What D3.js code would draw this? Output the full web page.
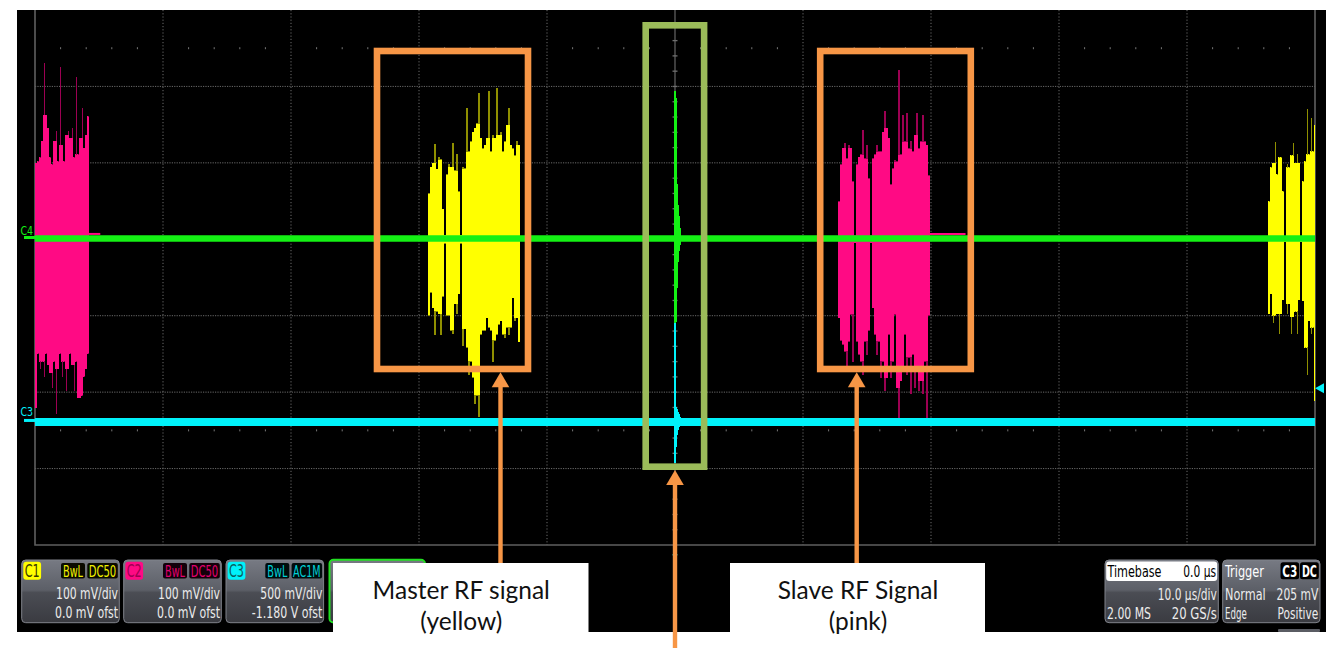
<!DOCTYPE html>
<html><head><meta charset="utf-8">
<script src="https://cdn.jsdelivr.net/npm/d3@7"></script>
<style>
html,body{margin:0;padding:0;background:#fff;overflow:hidden;}
svg{display:block;}
</style></head><body>
<svg id="c" width="1326" height="656"></svg>
<script>
// ================= DATA =================
// Time axis: 10 µs/div, 10 divisions, trigger at 0
const timeDomain = [-50, 50];           // µs
const timeTicks = [-40, -30, -20, -10, 10, 20, 30, 40];
const divDomain = [-4, 4];              // vertical divisions (top part cropped)
const divLines = [-3, -2, -1, 0, 1, 2];

// channel settings (from the info panels)
const c1Scale = 100, c2Scale = 100, c3Scale = 500, c4Scale = 100; // mV/div
const c3Offset = -1180;                 // mV
const c3TriggerLevel = 205;             // mV

// envelope sample period of the RF bursts (µs)
const sampleStep = 0.15625;

// C2 (pink) slave burst at the left edge
const pink1Start = -50;
const pink1Hi = [100,102,107,129,231,163,146,107,98,129,142,102,225,124,102,137,142,133,146,107,212,111,133,172,120,137,161];
const pink1Lo = [-221,-150,-170,-160,-180,-150,-165,-175,-195,-160,-229,-170,-150,-180,-160,-199,-170,-150,-165,-199,-160,-208,-208,-205,-180,-170,-150];

// C1 (yellow) master burst
const yellow1Start = -19.3;
const yellow1Hi = [60,95,100,125,92,108,105,40, 6, 85,98,95,126,90,111,63, 6,
  95,93,172,115,128,141,146,152,191,133,119,124,133,194,115,137,133,198,137,141,115,128,150,172,124,119,110,128,124];
const yellow1Lo = [-100,-70,-90,-125,-95,-98,-125,-75, -6, -100,-100,-120,-124,-85,-98,-72, -6,
  -140,-118,-142,-177,-160,-181,-216,-205,-232,-125,-120,-120,-103,-116,-120,-160,-133,-125,-112,-107,-125,-129,-116,-125,-116,-77,-107,-103,-135];

// C2 (pink) slave burst
const pink2Start = 12.73;
const pink2Hi = [50,98,120,126,106,124,120,76, 5, 98,108,111,143,106,124,80, 5,
  106,111,124,115,115,141,168,146,133,72,93,104,102,222,111,163,128,165,119,128,115,137,165,119,128,163,128,124,84];
const pink2Lo = [-103,-133,-138,-147,-168,-134,-99,-160, -5, -134,-151,-160,-177,-134,-151,-120, -5,
  -90,-125,-151,-134,-182,-160,-199,-182,-125,-182,-160,-99,-195,-234,-186,-168,-125,-177,-155,-203,-151,-195,-168,-199,-186,-203,-160,-234,-100];

// C1 (yellow) master burst at the right edge
const yellow2Start = 46.33;
const yellow2Hi = [50,94,100,127,85,108,107,63, 4, 98,94,110,126,100,111,100, 4, 76,102,170,111,159,115,150];
const yellow2Lo = [-98,-72,-110,-100,-98,-124,-98,-80, -4, -98,-85,-124,-102,-95,-124,-80, -4, -81,-142,-177,-107,-124,-116,-212];

// small pink residue after each slave burst [start, end] µs and level mV
const pinkTails = [[-45.9, -44.9], [19.9, 22.7]];
const pinkTailLevel = 7;

// C4 (green) and C3 (cyan) baselines
const baseTimes = [-50, -25, 0, 25, 50];
const c4Base = [1, 1, 1, 1, 1];          // mV
const c3Base = [-15, -15, -15, -15, -15]; // mV

// edge spikes at the trigger point
const spikeStep = 0.078125;
const c4SpikeStart = -0.04;
const c4SpikeHi = [194, 185, 72, 45, 30, 15];
const c4SpikeLo = [-110, -108, -64, -30, -15, -8];
const c3SpikeStart = -0.08;
const c3SpikeHi = [894, 894, 80, 70, 50, 35, 20];
const c3SpikeLo = [-284, -284, -180, -100, -70, -50, -35];

// info panel texts
const chanPanels = [
  {id:"C1", a:"BwL", b:"DC50", l1:"100 mV/div", l2:"0.0 mV ofst"},
  {id:"C2", a:"BwL", b:"DC50", l1:"100 mV/div", l2:"0.0 mV ofst"},
  {id:"C3", a:"BwL", b:"AC1M", l1:"500 mV/div", l2:"-1.180 V ofst"}
];
const timebaseTexts = ["Timebase", "0.0 µs", "10.0 µs/div", "2.00 MS", "20 GS/s"];
const triggerTexts = ["Trigger", "C3", "DC", "Normal", "205 mV", "Edge", "Positive"];
const annotations = [
  {lines:["Master RF signal", "(yellow)"]},
  {lines:["Slave RF Signal", "(pink)"]}
];

// ================= DRAW =================
const svg = d3.select("#c");
const DIV = 76.43;
const x = d3.scaleLinear().domain(timeDomain).range([35, 1315]);
const yDiv = d3.scaleLinear().domain(divDomain).range([545, 545 - 8 * DIV]);
const yC1 = v => yDiv(v / c1Scale);
const yC2 = v => yDiv(v / c2Scale);
const yC4 = v => yDiv(v / c4Scale);
const yC3 = v => yDiv((v + c3Offset) / c3Scale);

const COL = {y:"#ffff00", yd:"#8f8f00", p:"#ff0a84", pd:"#9c0052", g:"#14f014", c:"#00f2fa",
  orange:"#f79646", olive:"#9bbb59"};

svg.append("rect").attr("width",1326).attr("height",656).attr("fill","#fff");
svg.append("rect").attr("x",17).attr("y",10).attr("width",1309).attr("height",622).attr("fill","#000");

const defs = svg.append("defs");
defs.append("clipPath").attr("id","plotclip").append("rect")
  .attr("x",35).attr("y",10).attr("width",1280).attr("height",535);
const grad = defs.append("linearGradient").attr("id","pg").attr("x1",0).attr("x2",0).attr("y1",0).attr("y2",1);
[[0,"#777a83"],[0.48,"#5c5f67"],[0.52,"#4b4d54"],[1,"#3a3b41"]].forEach(s=>
  grad.append("stop").attr("offset",s[0]).attr("stop-color",s[1]));

// ---- grid ----
const grid = svg.append("g");
grid.selectAll(null).data(timeTicks).join("line")
  .attr("x1", d=>x(d)).attr("x2", d=>x(d)).attr("y1",10).attr("y2",545)
  .attr("stroke","#6a6a6a").attr("stroke-width",1).attr("stroke-dasharray","1.2,2");
grid.selectAll(null).data(divLines).join("line")
  .attr("x1",35).attr("x2",1315).attr("y1", d=>yDiv(d)).attr("y2", d=>yDiv(d))
  .attr("stroke","#6a6a6a").attr("stroke-width",1).attr("stroke-dasharray","1.2,1.2");
const minorT = d3.range(-50, 50.01, 2).filter(t => Math.abs(t % 10) > 0.01);
[2.5, -2.5].forEach(dv => {
  grid.selectAll(null).data(minorT).join("rect")
    .attr("x", d=>x(d)-0.5).attr("width",1).attr("y", yDiv(dv)-1).attr("height",2).attr("fill","#777");
});
grid.append("line").attr("x1",x(0)).attr("x2",x(0)).attr("y1",10).attr("y2",545)
  .attr("stroke","#5e5e5e").attr("stroke-width",1.3);
const minorD = d3.range(-4, 4.01, 0.2).filter(d => yDiv(d) > 12 && yDiv(d) < 543);
grid.selectAll(null).data(minorD).join("rect")
  .attr("x", x(0)-2.5).attr("width",5).attr("y", d=>yDiv(d)-0.6).attr("height",1.3).attr("fill","#6e6e6e");
grid.append("path").attr("d", `M${x(-50)},10V${yDiv(-4)}H${x(50)}V10`)
  .attr("fill","none").attr("stroke","#5f5f5f").attr("stroke-width",1.6);

// ---- traces ----
const tr = svg.append("g").attr("clip-path","url(#plotclip)");

function drawBurst(start, hi, lo, yf, bright, dark) {
  const g = tr.append("g").attr("shape-rendering","crispEdges");
  const idx = d3.range(hi.length);
  const w = x(start + sampleStep) - x(start);
  const bHi = hi.map((h,i)=> Math.min(h, Math.max(hi[i-1] ?? h, hi[i+1] ?? h)));
  const bLo = lo.map((l,i)=> Math.max(l, Math.min(lo[i-1] ?? l, lo[i+1] ?? l)));
  g.selectAll(null).data(idx).join("rect")
    .attr("x", i => x(start + i*sampleStep)).attr("width", w + 0.2)
    .attr("y", i => yf(bHi[i])).attr("height", i => yf(bLo[i]) - yf(bHi[i]))
    .attr("fill", bright);
  g.selectAll(null).data(idx).join("rect")
    .attr("x", i => x(start + i*sampleStep) + 0.5).attr("width", 1.1)
    .attr("y", i => yf(hi[i])).attr("height", i => yf(bHi[i]) - yf(hi[i]) + 0.5)
    .attr("fill", dark);
  g.selectAll(null).data(idx).join("rect")
    .attr("x", i => x(start + i*sampleStep) + 0.5).attr("width", 1.1)
    .attr("y", i => yf(bLo[i]) - 0.5).attr("height", i => yf(lo[i]) - yf(bLo[i]) + 0.5)
    .attr("fill", dark);
}
drawBurst(pink1Start, pink1Hi, pink1Lo, yC2, COL.p, COL.pd);
drawBurst(pink2Start, pink2Hi, pink2Lo, yC2, COL.p, COL.pd);
drawBurst(yellow1Start, yellow1Hi, yellow1Lo, yC1, COL.y, COL.yd);
drawBurst(yellow2Start, yellow2Hi, yellow2Lo, yC1, COL.y, COL.yd);

tr.selectAll(null).data(pinkTails).join("line")
  .attr("x1", d=>x(d[0])).attr("x2", d=>x(d[1]))
  .attr("y1", yC2(pinkTailLevel)).attr("y2", yC2(pinkTailLevel))
  .attr("stroke", COL.p).attr("stroke-width", 2);

const line = (yf) => d3.line().x(d=>x(d[0])).y(d=>yf(d[1]));
tr.append("path").datum(baseTimes.map((t,i)=>[t,c3Base[i]]))
  .attr("d", line(yC3)).attr("fill","none").attr("stroke",COL.c).attr("stroke-width",8);
function drawSpike(start, hi, lo, yf, col) {
  tr.append("g").attr("shape-rendering","crispEdges").selectAll(null).data(d3.range(hi.length)).join("rect")
    .attr("x", i => x(start + i*spikeStep)).attr("width", x(spikeStep) - x(0) + 0.1)
    .attr("y", i => yf(hi[i])).attr("height", i => yf(lo[i]) - yf(hi[i])).attr("fill", col);
}
drawSpike(c3SpikeStart, c3SpikeHi, c3SpikeLo, yC3, COL.c);
tr.append("path").datum(baseTimes.map((t,i)=>[t,c4Base[i]]))
  .attr("d", line(yC4)).attr("fill","none").attr("stroke",COL.g).attr("stroke-width",6.5);
drawSpike(c4SpikeStart, c4SpikeHi, c4SpikeLo, yC4, COL.g);

// channel markers on the left
const cn = "'Liberation Sans Narrow','DejaVu Sans Condensed','Arial Narrow',sans-serif";
svg.append("text").attr("x",20.5).attr("y",235).text("C4").attr("fill",COL.g)
  .attr("font-family",cn).attr("font-size",13).attr("textLength",12.5).attr("lengthAdjust","spacingAndGlyphs");
svg.append("rect").attr("x",24).attr("y",yC4(c4Base[0])-2.5).attr("width",11).attr("height",3).attr("fill",COL.g);
svg.append("text").attr("x",20.5).attr("y",416).text("C3").attr("fill",COL.c)
  .attr("font-family",cn).attr("font-size",13).attr("textLength",12.5).attr("lengthAdjust","spacingAndGlyphs");
svg.append("rect").attr("x",24).attr("y",yC3(c3Base[0])-3).attr("width",11).attr("height",3).attr("fill",COL.c);
const ty = yC3(c3TriggerLevel);
svg.append("path").attr("d",`M${x(50)},${ty}L${x(50)+9},${ty-5}V${ty+5}Z`).attr("fill",COL.c);
svg.append("rect").attr("x",x(0)-2.5).attr("y",554).attr("width",5).attr("height",1.5).attr("fill","#1aa6a6");

// ---- info panels ----
const pf = "'Liberation Sans Narrow','DejaVu Sans Condensed','Arial Narrow',sans-serif";
function txt(g, s, xx, yy, anchor, tl, col, fs, weight) {
  return g.append("text").attr("x",xx).attr("y",yy).text(s).attr("text-anchor",anchor)
    .attr("font-family",pf).attr("font-size",fs||15).attr("fill",col)
    .attr("font-weight",weight||"normal")
    .attr("textLength",tl).attr("lengthAdjust","spacingAndGlyphs");
}
function panel(x0, w) {
  const g = svg.append("g");
  g.append("rect").attr("x",x0).attr("y",560).attr("width",w).attr("height",62.7).attr("rx",4)
    .attr("fill","url(#pg)").attr("stroke","#80838b").attr("stroke-width",1);
  return g;
}
const chanCols = [
  {main:"#ffff00", badgeTxt:"#3a3a00", tag:"#f0f000", tagBg:"#0a0a00"},
  {main:"#ff0a84", badgeTxt:"#a00052", tag:"#e0006e", tagBg:"#12000a"},
  {main:"#00f2fa", badgeTxt:"#0a5c60", tag:"#00cfd6", tagBg:"#000c0c"}
];
const panelX = [21.7, 123.7, 226];
chanPanels.forEach((p, k) => {
  const x0 = panelX[k], c = chanCols[k];
  const g = panel(x0, 97.6);
  g.append("rect").attr("x",x0+1.6).attr("y",561.7).attr("width",17.8).attr("height",18).attr("rx",3).attr("fill",c.main);
  txt(g, p.id, x0+10.5, 577.3, "middle", 15, c.badgeTxt, 17);
  g.append("rect").attr("x",x0+39.3).attr("y",563).attr("width",24).attr("height",15.5).attr("rx",2).attr("fill",c.tagBg);
  txt(g, p.a, x0+51.3, 576.6, "middle", 20, c.tag, 15);
  g.append("rect").attr("x",x0+65.6).attr("y",563).attr("width",30.5).attr("height",15.5).attr("rx",2).attr("fill",c.tagBg);
  txt(g, p.b, x0+80.8, 576.6, "middle", 27.5, c.tag, 15);
  txt(g, p.l1, x0+96.3, 599.3, "end", 62, "#ececec", 16.5);
  txt(g, p.l2, x0+96.3, 617.8, "end", k===2 ? 70.5 : 63, "#ececec", 16.5);
});
// C4 panel (mostly hidden by the annotation)
svg.append("rect").attr("x",329.5).attr("y",559.8).attr("width",95.5).attr("height",62.7).attr("rx",4)
  .attr("fill","url(#pg)").attr("stroke","#22e022").attr("stroke-width",2);

// timebase panel
{
  const g = panel(1105, 113.3);
  g.append("rect").attr("x",1106.2).attr("y",561.4).attr("width",111).attr("height",19.5).attr("rx",3).attr("fill","#fff");
  txt(g, timebaseTexts[0], 1107.5, 577.3, "start", 54, "#000", 16.5);
  txt(g, timebaseTexts[1], 1216, 577.3, "end", 32.7, "#000", 16.5);
  txt(g, timebaseTexts[2], 1216.8, 599.8, "end", 59, "#ececec", 16.5);
  txt(g, timebaseTexts[3], 1107, 618.8, "start", 44, "#ececec", 16.5);
  txt(g, timebaseTexts[4], 1216.8, 618.8, "end", 45, "#ececec", 16.5);
}
// trigger panel
{
  const g = panel(1222.7, 97.3);
  txt(g, triggerTexts[0], 1225, 577.3, "start", 39, "#ffffff", 16.5);
  g.append("rect").attr("x",1280.5).attr("y",562.3).attr("width",18.6).attr("height",17).attr("rx",2.5).attr("fill","#000");
  g.append("rect").attr("x",1300).attr("y",562.3).attr("width",18.8).attr("height",17).attr("rx",2.5).attr("fill","#000");
  txt(g, triggerTexts[1], 1289.8, 576.8, "middle", 15, "#fff", 15.5, "bold");
  txt(g, triggerTexts[2], 1309.4, 576.8, "middle", 15, "#fff", 15.5, "bold");
  txt(g, triggerTexts[3], 1225, 599.8, "start", 40.7, "#ececec", 16.5);
  txt(g, triggerTexts[4], 1318.3, 599.8, "end", 41.7, "#ececec", 16.5);
  txt(g, triggerTexts[5], 1225, 618.8, "start", 21.7, "#ececec", 16.5);
  txt(g, triggerTexts[6], 1318.3, 618.8, "end", 40.7, "#ececec", 16.5);
}
svg.append("rect").attr("x",1278).attr("y",629).attr("width",42).attr("height",3).attr("rx",1).attr("fill","#5a5c63");

// ---- annotations ----
const an = svg.append("g");
function box(x0, y0, w, h, col) {
  an.append("rect").attr("x",x0).attr("y",y0).attr("width",w).attr("height",h)
    .attr("fill","none").attr("stroke",col).attr("stroke-width",6.6);
}
function arrow(xc, tipY, endY) {
  an.append("rect").attr("x",xc-2.2).attr("y",tipY+12).attr("width",4.4).attr("height",endY-tipY-12).attr("fill",COL.orange);
  an.append("path").attr("d",`M${xc},${tipY}L${xc+8.8},${tipY+15}H${xc-8.8}Z`).attr("fill",COL.orange);
}
box(377, 51, 151, 318, COL.orange);
box(820.2, 51, 150.6, 318, COL.orange);
box(645.7, 25.3, 58.4, 441.4, COL.olive);
arrow(500.5, 372.3, 563);
arrow(856.7, 372.3, 563);
arrow(x(0), 470, 648);

const labelBoxes = [[333, 255.5], [730, 255]];
annotations.forEach((a, k) => {
  const [bx, bw] = labelBoxes[k];
  an.append("rect").attr("x",bx).attr("y",563).attr("width",bw).attr("height",69).attr("fill","#fff");
  a.lines.forEach((s, j) => {
    an.append("text").attr("x", bx + bw/2 + 0.5).attr("y", j ? 629.5 : 598.5).text(s)
      .attr("text-anchor","middle").attr("font-family","Lato, 'Open Sans', sans-serif")
      .attr("font-size",24.5).attr("fill","#111");
  });
});
</script>
</body></html>
